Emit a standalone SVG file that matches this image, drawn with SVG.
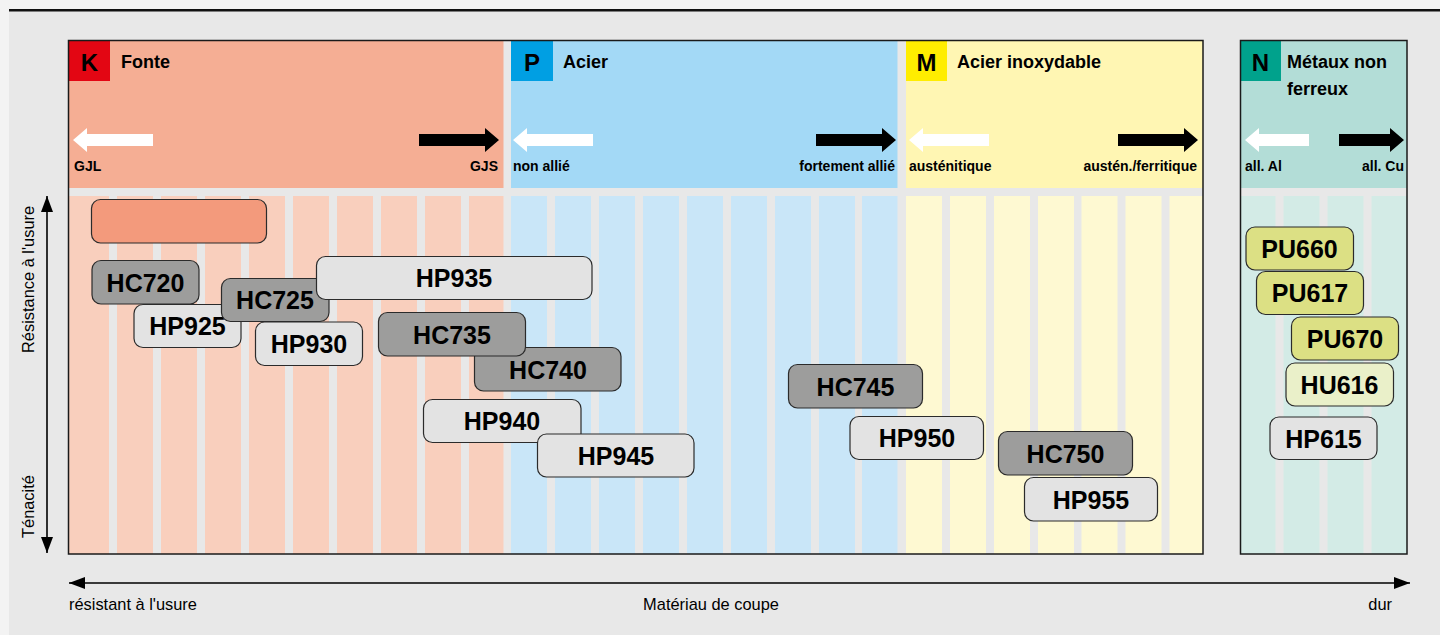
<svg xmlns="http://www.w3.org/2000/svg" width="1440" height="635" viewBox="0 0 1440 635">
<style>
text{font-family:"Liberation Sans",Arial,sans-serif;fill:#000}
.title{font-size:18px;font-weight:bold}
.letter{font-size:24px;font-weight:bold;text-anchor:middle}
.sub{font-size:14px;font-weight:bold}
.end{text-anchor:end}
.axis{font-size:16.4px}
.node rect{stroke:#2b2b2b;stroke-width:1.2}
.node text{font-size:25px;font-weight:bold;text-anchor:middle}
.dark rect{fill:#9d9d9c}
.light rect{fill:#e3e3e3}
.pu rect{fill:#dce084}
.hu rect{fill:#eaf0c9}
.bar rect{fill:#f39a7c}
.sk{fill:#f9cfbd}
.sp{fill:#c9e6f8}
.sm{fill:#fef9d2}
.sn{fill:#d3ebe6}
.wa{fill:#fff}
.ba{fill:#000}
.frame{fill:none;stroke:#1a1a1a;stroke-width:1.5}
.ax{stroke:#000;stroke-width:1.6;fill:none}
</style>
<defs>
<marker id="ah" viewBox="0 0 16 12" refX="16" refY="6" markerWidth="16" markerHeight="12" markerUnits="userSpaceOnUse" orient="auto-start-reverse">
<path d="M0,0 L16,6 L0,12 z" fill="#000"/>
</marker>
</defs>
<rect x="0" y="0" width="1440" height="635" fill="#f3f3f3"/>
<rect x="9" y="10" width="1431" height="625" fill="#e8e8e8"/>
<rect x="9" y="9" width="1431" height="2.5" fill="#111"/>

<g id="headers">
<rect x="68" y="40" width="435.5" height="148" fill="#f5ae94"/>
<rect x="511" y="40" width="386.5" height="148" fill="#a3d9f6"/>
<rect x="906" y="40" width="297" height="148" fill="#fff6b3"/>
<rect x="1240" y="40" width="167" height="148" fill="#b3ddd7"/>
<rect x="69" y="41" width="41" height="40" fill="#e30613"/>
<rect x="511" y="41" width="42" height="40" fill="#009fe3"/>
<rect x="906" y="41" width="41" height="40" fill="#ffed00"/>
<rect x="1240" y="41" width="41" height="40" fill="#00a28c"/>
<text class="letter" x="89.5" y="70.5">K</text>
<text class="letter" x="532" y="70.5">P</text>
<text class="letter" x="926.5" y="70.5">M</text>
<text class="letter" x="1260.5" y="70.5">N</text>
<text class="title" x="121" y="68">Fonte</text>
<text class="title" x="563" y="68">Acier</text>
<text class="title" x="957" y="68">Acier inoxydable</text>
<text class="title" x="1287" y="68">Métaux non</text>
<text class="title" x="1287" y="95">ferreux</text>
<polygon class="wa" points="73,140 87,128 87,134 153,134 153,146 87,146 87,152"/>
<polygon class="ba" points="499,140 485,128 485,134 419,134 419,146 485,146 485,152"/>
<polygon class="wa" points="513,140 527,128 527,134 593,134 593,146 527,146 527,152"/>
<polygon class="ba" points="896,140 882,128 882,134 816,134 816,146 882,146 882,152"/>
<polygon class="wa" points="909,140 923,128 923,134 989,134 989,146 923,146 923,152"/>
<polygon class="ba" points="1198,140 1184,128 1184,134 1118,134 1118,146 1184,146 1184,152"/>
<polygon class="wa" points="1245,140 1259,128 1259,134 1309,134 1309,146 1259,146 1259,152"/>
<polygon class="ba" points="1404,140 1390,128 1390,134 1339,134 1339,146 1390,146 1390,152"/>
<text class="sub" x="74" y="170.5">GJL</text>
<text class="sub end" x="498" y="170.5">GJS</text>
<text class="sub" x="513" y="170.5">non allié</text>
<text class="sub end" x="895" y="170.5">fortement allié</text>
<text class="sub" x="909" y="170.5">austénitique</text>
<text class="sub end" x="1197" y="170.5">austén./ferritique</text>
<text class="sub" x="1245" y="170.5">all. Al</text>
<text class="sub end" x="1404" y="170.5">all. Cu</text>
</g>

<g id="stripes">
<rect class="sk" x="69" y="196" width="40" height="358"/>
<rect class="sk" x="117" y="196" width="36" height="358"/>
<rect class="sk" x="161" y="196" width="36" height="358"/>
<rect class="sk" x="205" y="196" width="36" height="358"/>
<rect class="sk" x="249" y="196" width="36" height="358"/>
<rect class="sk" x="293" y="196" width="36" height="358"/>
<rect class="sk" x="337" y="196" width="36" height="358"/>
<rect class="sk" x="381" y="196" width="36" height="358"/>
<rect class="sk" x="425" y="196" width="36" height="358"/>
<rect class="sk" x="469" y="196" width="34.5" height="358"/>
<rect class="sp" x="511" y="196" width="36" height="358"/>
<rect class="sp" x="555" y="196" width="36" height="358"/>
<rect class="sp" x="599" y="196" width="36" height="358"/>
<rect class="sp" x="643" y="196" width="36" height="358"/>
<rect class="sp" x="687" y="196" width="36" height="358"/>
<rect class="sp" x="731" y="196" width="36" height="358"/>
<rect class="sp" x="775" y="196" width="36" height="358"/>
<rect class="sp" x="819" y="196" width="36" height="358"/>
<rect class="sp" x="862" y="196" width="35.5" height="358"/>
<rect class="sm" x="906" y="196" width="36" height="358"/>
<rect class="sm" x="950" y="196" width="36" height="358"/>
<rect class="sm" x="994" y="196" width="36" height="358"/>
<rect class="sm" x="1038" y="196" width="36" height="358"/>
<rect class="sm" x="1081.5" y="196" width="36" height="358"/>
<rect class="sm" x="1125.5" y="196" width="36" height="358"/>
<rect class="sm" x="1169.5" y="196" width="33.5" height="358"/>
<rect class="sn" x="1241" y="196" width="34.5" height="358"/>
<rect class="sn" x="1283.5" y="196" width="36" height="358"/>
<rect class="sn" x="1327.5" y="196" width="36" height="358"/>
<rect class="sn" x="1371.5" y="196" width="35.5" height="358"/>
</g>

<rect class="frame" x="68.5" y="40.5" width="1134.5" height="513.5"/>
<rect class="frame" x="1240.5" y="40.5" width="166.5" height="513.5"/>

<g id="node-bar" class="node bar"><rect x="91.5" y="199.5" width="175" height="43.5" rx="9"/></g>
<g id="node-HC720" class="node dark"><rect x="92" y="260.5" width="107" height="43.5" rx="9"/><text x="145.5" y="291.5">HC720</text></g>
<g id="node-HP925" class="node light"><rect x="134" y="304.5" width="107" height="43" rx="9"/><text x="187.5" y="335">HP925</text></g>
<g id="node-HC725" class="node dark"><rect x="221.5" y="278.5" width="107.5" height="43" rx="9"/><text x="275" y="309">HC725</text></g>
<g id="node-HP935" class="node light"><rect x="316.5" y="256.5" width="275.5" height="43" rx="9"/><text x="454" y="287">HP935</text></g>
<g id="node-HP930" class="node light"><rect x="255.5" y="322" width="107" height="43.5" rx="9"/><text x="309" y="353">HP930</text></g>
<g id="node-HC740" class="node dark"><rect x="474.5" y="347.5" width="146.5" height="43.5" rx="9"/><text x="548" y="378.5">HC740</text></g>
<g id="node-HC735" class="node dark"><rect x="378.5" y="312.5" width="147" height="43.5" rx="9"/><text x="452" y="343.5">HC735</text></g>
<g id="node-HP940" class="node light"><rect x="423.5" y="399.5" width="157.5" height="43" rx="9"/><text x="502" y="430">HP940</text></g>
<g id="node-HP945" class="node light"><rect x="537.5" y="434" width="156.5" height="43" rx="9"/><text x="616" y="464.5">HP945</text></g>
<g id="node-HC745" class="node dark"><rect x="788.5" y="364.5" width="134" height="43.5" rx="9"/><text x="855.5" y="395.5">HC745</text></g>
<g id="node-HP950" class="node light"><rect x="850" y="416.5" width="133.5" height="43" rx="9"/><text x="917" y="447">HP950</text></g>
<g id="node-HC750" class="node dark"><rect x="998.5" y="431.5" width="134" height="43.5" rx="9"/><text x="1065.5" y="462.5">HC750</text></g>
<g id="node-HP955" class="node light"><rect x="1024.5" y="477.5" width="133" height="43.5" rx="9"/><text x="1091" y="508.5">HP955</text></g>
<g id="node-PU660" class="node pu"><rect x="1246" y="227" width="107.5" height="43" rx="9"/><text x="1299.5" y="257.5">PU660</text></g>
<g id="node-PU617" class="node pu"><rect x="1256.5" y="271.5" width="107" height="43" rx="9"/><text x="1310" y="302">PU617</text></g>
<g id="node-PU670" class="node pu"><rect x="1291.5" y="317" width="107" height="43" rx="9"/><text x="1345" y="347.5">PU670</text></g>
<g id="node-HU616" class="node hu"><rect x="1286" y="363" width="107.5" height="43" rx="9"/><text x="1339.5" y="393.5">HU616</text></g>
<g id="node-HP615" class="node light"><rect x="1270" y="417" width="107" height="42.5" rx="9"/><text x="1323.5" y="447.5">HP615</text></g>

<g id="axes">
<line class="ax" x1="47" y1="196" x2="47" y2="553" marker-start="url(#ah)" marker-end="url(#ah)"/>
<line class="ax" x1="69" y1="583" x2="1410" y2="583" marker-start="url(#ah)" marker-end="url(#ah)"/>
<text class="axis" transform="translate(34,353) rotate(-90)">Résistance à l'usure</text>
<text class="axis" transform="translate(34,538) rotate(-90)">Ténacité</text>
<text class="axis" x="69" y="610">résistant à l'usure</text>
<text class="axis" x="711" y="610" text-anchor="middle">Matériau de coupe</text>
<text class="axis end" x="1392" y="610">dur</text>
</g>
</svg>
